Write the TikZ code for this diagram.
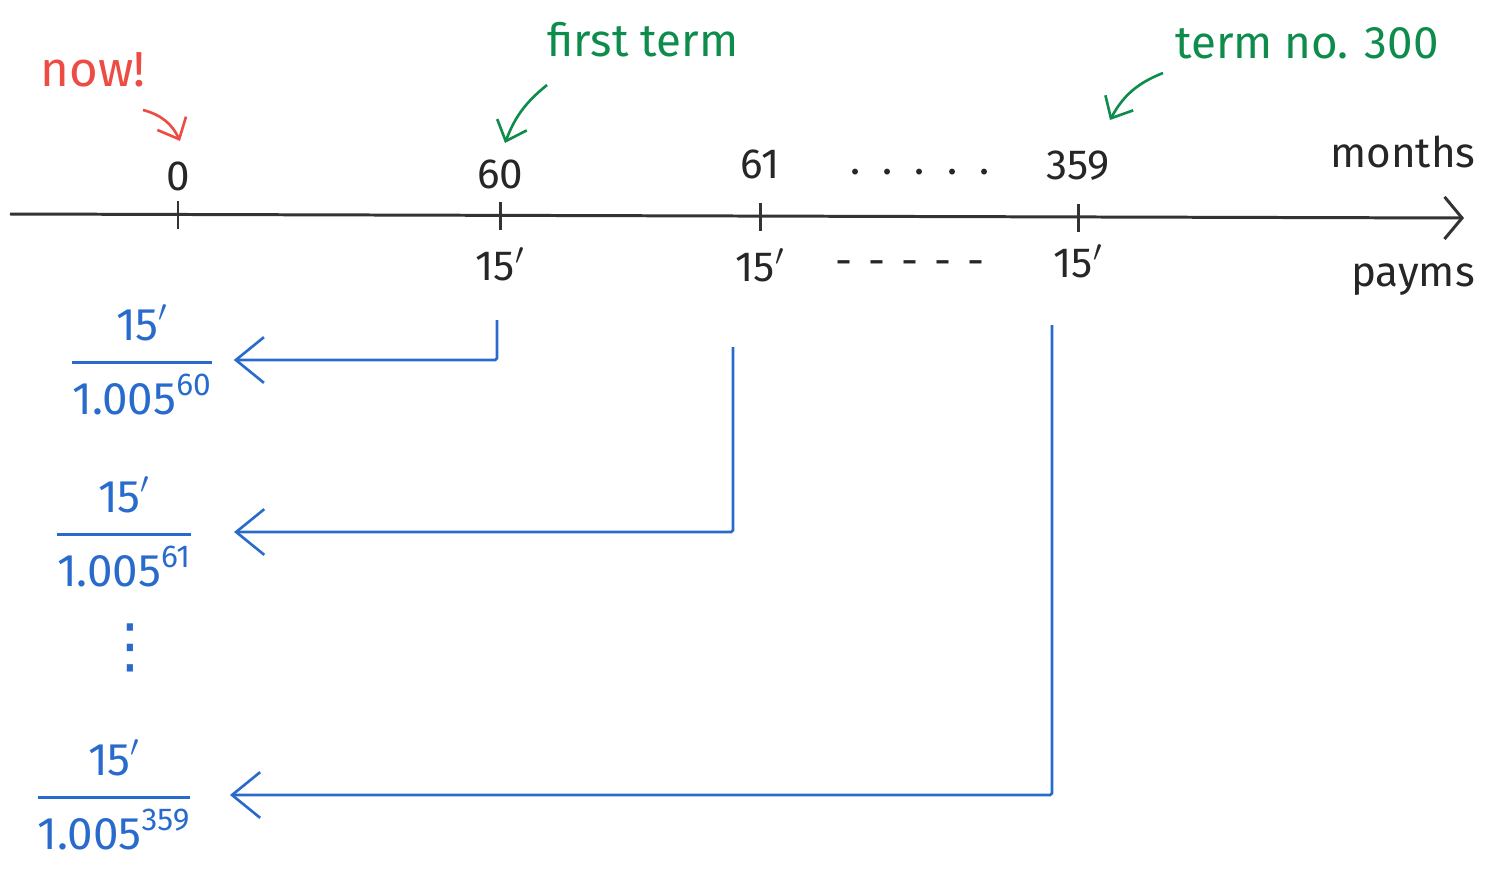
\documentclass[tikz,border=0pt]{standalone}
\usepackage{fontspec}
\setmainfont{Fira Sans}
\newfontfamily\symfont{DejaVu Sans}
\usepackage{tikz}
\usetikzlibrary{arrows.meta,positioning}
\definecolor{nowred}{rgb}{0.93,0.30,0.27}
\definecolor{termgreen}{rgb}{0.05,0.55,0.30}
\definecolor{payblue}{rgb}{0.16,0.42,0.80}
% discounted payment, 15' over 1.005^n
\newcommand{\discval}[1]{$\displaystyle{\mbox{15}'\rule[-7pt]{0pt}{7pt}
	\above 1.6pt \rule{0pt}{24pt}\mbox{1.005}^{\mbox{\fontsize{18}{20}\selectfont #1}}}$}
\tikzset{
	axis_line/.style={
		line width=1.7pt, draw=black!80,
		-{Straight Barb[length=10pt,width=24pt,line width=1.7pt]}
	},
	tick_mark/.style={line width=1.7pt, draw=black!80},
	lbl/.style={font=\fontsize{24}{28}\selectfont, text=black!85, inner sep=2pt},
	note_red/.style={font=\fontsize{28}{32}\selectfont, text=nowred},
	note_green/.style={font=\fontsize{26}{30}\selectfont, text=termgreen},
	frac/.style={font=\fontsize{26}{30}\selectfont, text=payblue, outer sep=8pt},
	pay_arrow/.style={
		line width=1.5pt, draw=payblue, rounded corners=1pt,
		-{Straight Barb[length=16pt,width=26pt,line width=1.5pt]}
	},
	hint_arrow/.style={
		line width=1.5pt,
		-{Straight Barb[length=10pt,width=18pt,line width=1.5pt]}
	}
}

\begin{document}
\begin{tikzpicture}[x=0.02cm,y=-0.02cm]
	\useasboundingbox (0,0) rectangle (1494,869);
	% time line
	\coordinate (ax0) at (10,214);
	\coordinate (ax1) at (1464,218);
	\coordinate (t0)   at (178,215);
	\coordinate (t60)  at (500,216);
	\coordinate (t61)  at (760,217);
	\coordinate (t359) at (1078,218);
	\draw[axis_line] (ax0) -- (ax1);
	\foreach \t in {t0,t60,t61,t359}
		\draw[tick_mark] ([yshift=8pt]\t) -- ([yshift=-8pt]\t);
	% months
	\node[lbl] (m0)   [above=0.40cm of t0]   {0};
	\node[lbl] (m60)  [above=0.46cm of t60]  {60};
	\node[lbl] (m61)  [above=0.68cm of t61]  {61};
	\node[lbl] (m359) [above=0.68cm of t359] {359};
	\node[lbl] (mdots) at (920,172) {.\ \ .\ \ .\ \ .\ \ .};
	\node[lbl] (months) at (1403,152) {months};
	% payments
	\node[lbl] (p60)  [below=0.55cm of t60]  {15$'$};
	\node[lbl] (p61)  [below=0.55cm of t61]  {15$'$};
	\node[lbl] (p359) [below=0.45cm of t359] {15$'$};
	\node[lbl] (pdots) at (910,268) {-\hspace{9pt}-\hspace{9pt}-\hspace{9pt}-\hspace{9pt}-};
	\node[lbl] (payms) at (1413,280) {payms};
	% notes
	\node[note_red] (now) at (93,70) {now!};
	\coordinate (nowa) at (143,110);
	\coordinate (nowb) at (180,141);
	\draw[hint_arrow, nowred] (nowa) to[bend left=25] (nowb);
	\node[note_green] (first) at (643,40) {first term};
	\coordinate (fa) at (547,85);
	\coordinate (fb) at (505,143);
	\draw[hint_arrow, termgreen] (fa) to[bend right=15] (fb);
	\node[note_green] (last) at (1307,43) {term no. 300};
	\coordinate (la) at (1163,73);
	\coordinate (lb) at (1110,120);
	\draw[hint_arrow, termgreen] (la) to[bend right=20] (lb);
	% discounted values
	\node[frac] (f60)  at (142,360) {\discval{60}};
	\node[frac, outer sep=20pt] (f61)  at (124,532) {\discval{61}};
	\node[frac, font=\symfont\fontsize{34}{36}\selectfont] (fdots) at (130,648) {⋮};
	\node[frac, outer sep=18pt] (f359) at (114,795) {\discval{359}};
	\coordinate (s60)  at (497,320);
	\coordinate (s61)  at (733,347);
	\coordinate (s359) at (1052,325);
	\draw[pay_arrow] (s60)  |- (f60);
	\draw[pay_arrow] (s61)  |- (f61);
	\draw[pay_arrow] (s359) |- (f359);
\end{tikzpicture}
\end{document}
